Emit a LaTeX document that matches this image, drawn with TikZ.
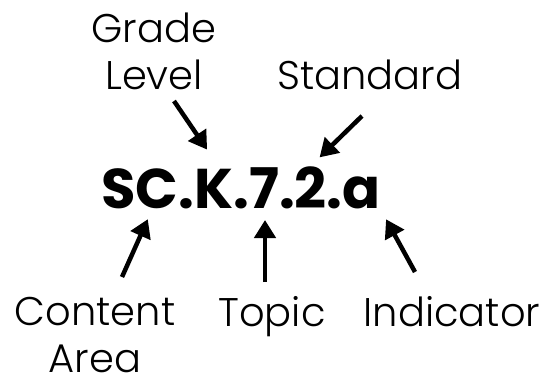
\documentclass[tikz,border=0pt]{standalone}
\usepackage{fontspec}
\setmainfont{Poppins}[UprightFont=* Light, BoldFont=* Bold]
\usetikzlibrary{arrows.meta}
\tikzset{
    label-text/.style = {font=\fontsize{40}{47}\selectfont, align=center, inner sep=0pt, anchor=base},
    code-text/.style = {font=\fontsize{56}{60}\selectfont\bfseries, inner sep=0pt, anchor=base},
    pointer-arrow/.style = {line width=4.5pt, -{Triangle[length=18pt,width=21pt]}, shorten >=-2pt},
}

\begin{document}
\begin{tikzpicture}[x=1pt, y=-1pt]
\useasboundingbox (0,0) rectangle (548,380);
\node [code-text] (code) at (241,208) {SC.K.7.2.a};
\node [label-text] (grade) at (154,89) {Grade\\Level};
\node [label-text] (standard) at (370,89) {Standard};
\node [label-text] (content) at (95,372) {Content\\Area};
\node [label-text] (topic) at (272,326) {Topic};
\node [label-text] (indicator) at (452,326) {Indicator};
% arrow ends
\coordinate (grade-tail) at (174,101);
\coordinate (grade-tip) at (206,148);
\coordinate (standard-tail) at (362,116);
\coordinate (standard-tip) at (321,156);
\coordinate (content-tail) at (122,277);
\coordinate (content-tip) at (147,221);
\coordinate (topic-tail) at (265,282);
\coordinate (topic-tip) at (265,222);
\coordinate (indicator-tail) at (415,272);
\coordinate (indicator-tip) at (387,221);
\draw [pointer-arrow] (grade-tail) -- (grade-tip);
\draw [pointer-arrow] (standard-tail) -- (standard-tip);
\draw [pointer-arrow] (content-tail) -- (content-tip);
\draw [pointer-arrow] (topic-tail) -- (topic-tip);
\draw [pointer-arrow] (indicator-tail) -- (indicator-tip);
\end{tikzpicture}
\end{document}
